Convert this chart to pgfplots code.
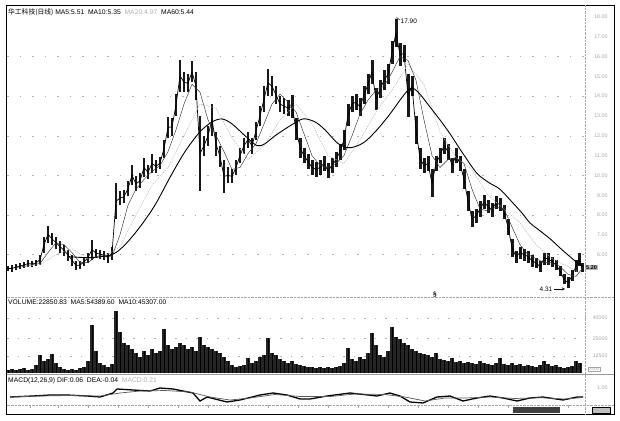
\documentclass[border=0pt]{standalone}
\usepackage{pgfplots}
\pgfplotsset{compat=1.18}
\usepackage{pgfplotstable}
\usepackage{fontspec}
\setmainfont{Liberation Sans}
\newfontfamily\cjk{Noto Sans CJK SC}

\pgfplotstableread{
x l h
8 5.15 5.45
12 5.1 5.5
16 5.2 5.55
20 5.25 5.6
24 5.3 5.65
28 5.35 5.75
32 5.35 5.7
36 5.4 5.75
40 5.5 6.0
44 6.1 6.9
48 6.6 7.45
52 6.5 7.1
56 6.3 6.9
60 6.1 6.7
64 5.95 6.5
68 5.7 6.25
72 5.45 6.0
76 5.2 5.7
80 5.25 5.7
84 5.4 5.85
88 5.6 6.1
92 5.75 6.75
96 5.85 6.3
100 5.8 6.25
104 5.75 6.2
108 5.6 6.1
112 5.75 6.4
116 7.8 9.6
120 8.5 9.2
124 8.6 9.25
128 8.95 9.7
132 9.5 10.5
136 9.2 9.95
140 9.35 10.1
144 9.9 10.9
148 9.8 10.5
152 10.1 11.1
156 10.1 10.8
160 10.3 10.95
164 10.9 11.8
168 11.9 12.95
172 12.0 12.9
176 13.0 14.1
180 14.2 15.85
184 14.2 15.2
188 14.2 15.1
192 14.7 15.75
196 13.8 15.2
200 9.2 13.0
204 11.0 12.0
208 11.5 12.5
212 12.0 13.6
216 11.0 12.2
220 10.4 11.5
224 9.1 10.8
228 9.6 10.4
232 9.6 10.3
236 10.0 10.8
240 10.6 11.4
244 11.1 11.9
248 11.4 12.2
252 11.1 11.9
256 11.8 12.7
260 12.5 13.5
264 13.2 14.5
268 14.0 15.35
272 14.0 15.0
276 13.6 14.5
280 13.2 14.0
284 13.1 13.9
288 13.0 13.8
292 12.9 14.05
296 11.8 12.9
300 10.9 11.9
304 10.6 11.4
308 10.3 11.1
312 10.0 10.8
316 9.9 10.7
320 10.0 10.8
324 10.2 11.0
328 9.85 10.6
332 10.1 10.9
336 10.4 11.2
340 10.8 11.6
344 11.3 12.3
348 12.5 13.6
352 13.2 14.0
356 13.3 14.1
360 13.0 13.9
364 13.6 14.5
368 14.1 15.1
372 14.6 15.85
376 13.3 14.4
380 13.9 14.8
384 14.3 15.3
388 14.6 15.6
392 15.6 16.8
396 16.5 17.9
400 15.5 16.7
404 15.7 16.6
408 12.95 15.1
412 14.0 15.0
416 11.6 13.0
420 10.3 11.4
424 10.1 10.9
428 10.2 11.0
432 8.9 10.3
436 10.2 11.0
440 10.6 11.4
444 11.1 11.9
448 10.8 11.6
452 10.1 10.9
456 10.6 11.4
460 10.2 11.0
464 9.3 10.3
468 8.2 9.2
472 7.4 8.2
476 7.6 8.3
480 7.9 8.7
484 8.3 9.0
488 8.1 8.75
492 7.9 8.6
496 8.3 8.95
500 8.2 8.85
504 7.8 8.5
508 7.0 7.8
512 5.9 6.8
516 5.6 6.2
520 5.8 6.4
524 5.7 6.3
528 5.6 6.2
532 5.4 6.0
536 5.3 5.85
540 5.1 5.7
544 5.5 6.1
548 5.5 6.1
552 5.4 5.9
556 5.2 5.75
560 4.9 5.45
564 4.5 5.0
568 4.31 4.85
572 4.65 5.2
576 5.1 5.75
579 5.4 6.1
582 5.1 5.6
}\price

\pgfplotstableread{
x v
8 3
12 4
16 3
20 4
24 5
28 3
32 4
36 8
40 18
44 12
48 14
52 19
56 10
60 6
64 4
68 3
72 4
76 3
80 5
84 6
88 12
92 48
96 22
100 10
104 8
108 6
112 9
116 62
120 41
124 30
128 28
132 24
136 20
140 16
144 22
148 18
152 24
156 20
160 22
164 44
168 28
172 24
176 26
180 30
184 28
188 24
192 26
196 22
200 36
204 28
208 26
212 24
216 22
220 20
224 16
228 12
232 8
236 6
240 7
244 8
248 15
252 10
256 12
260 16
264 18
268 35
272 20
276 18
280 14
284 12
288 10
292 12
296 9
300 8
304 7
308 6
312 6
316 5
320 6
324 5
328 6
332 5
336 6
340 7
344 10
348 25
352 14
356 12
360 16
364 14
368 20
372 40
376 28
380 18
384 16
388 22
392 46
396 36
400 34
404 30
408 28
412 24
416 22
420 20
424 19
428 18
432 16
436 20
440 14
444 13
448 12
452 15
456 11
460 12
464 10
468 11
472 10
476 9
480 12
484 10
488 9
492 8
496 10
500 15
504 9
508 8
512 10
516 8
520 9
524 7
528 8
532 7
536 6
540 8
544 12
548 9
552 7
556 8
560 6
564 5
568 6
572 7
576 12
580 10
}\volume

\pgfplotstableread{
x y
16 5.35
24 5.4
32 5.5
40 5.55
48 6.1
56 6.6
64 6.5
72 6.1
80 5.6
88 5.6
96 5.9
104 6.0
112 5.9
120 7.0
128 8.5
136 9.3
144 9.8
152 10.2
160 10.5
168 11.2
176 12.3
184 13.6
192 14.6
200 14.2
208 12.8
216 12.0
224 11.2
232 10.3
240 10.4
248 11.1
256 11.6
264 12.6
272 13.6
280 14.1
288 13.7
296 13.2
304 12.1
312 11.0
320 10.5
328 10.4
336 10.6
344 11.0
352 12.0
360 13.1
368 13.8
376 14.3
384 14.5
392 15.2
400 16.0
408 15.8
416 14.8
424 12.8
432 11.0
440 10.4
448 10.8
456 10.9
464 10.6
472 9.3
480 8.3
488 8.2
496 8.4
504 8.3
512 7.4
520 6.5
528 6.0
536 5.8
544 5.6
552 5.6
560 5.4
568 5.0
576 4.9
583 5.35
}\maten

\pgfplotstableread{
x y
24 5.4
40 5.5
56 6.0
72 6.3
88 5.8
104 5.9
120 6.4
136 8.0
152 9.5
168 10.4
184 12.0
200 13.6
216 13.4
232 11.9
248 10.8
264 11.5
280 12.8
296 13.6
312 12.6
328 11.0
344 10.6
360 11.8
376 13.2
392 14.3
408 15.6
424 14.6
440 12.2
456 10.9
472 10.3
488 9.0
504 8.3
520 7.6
536 6.5
552 5.8
568 5.4
583 5.0
}\matwenty

\pgfplotstableread{
x y
68 5.9
90 5.85
112 6.0
125 6.5
140 7.4
155 8.5
170 9.9
185 11.2
200 12.2
212 12.7
222 12.85
232 12.6
245 12.0
257 11.5
265 11.6
275 12.0
290 12.5
303 12.85
315 12.7
325 12.3
337 11.65
347 11.4
355 11.45
365 11.7
377 12.3
390 13.1
400 13.8
408 14.3
413 14.4
420 14.1
430 13.45
440 12.8
450 12.1
463 11.1
477 10.1
490 9.6
500 9.3
513 8.6
522 8.1
530 7.6
540 7.2
550 6.8
563 6.2
577 5.6
583 5.4
}\masixty

\pgfplotstableread{
x y
10 8
33 9
50 10
67 10
87 9
100 8
113 12
117 16
133 15
150 14
160 17
173 16
193 12
200 4
207 8
227 3
240 5
260 10
273 12
287 10
300 6
310 6
327 9
350 12
377 9
390 12
400 9
410 3
423 2
437 8
450 9
463 4
477 7
490 9
503 7
517 4
530 7
543 8
563 5
577 8
583 8
}\dif

\pgfplotstableread{
x y
10 8
40 9
70 9.5
100 9
120 12
140 14
165 14.5
190 13
210 8
230 5
250 7
275 10.5
300 8.5
330 8.5
355 11
385 10.5
405 8
425 4
445 7
465 7
490 8
515 6.5
540 7.3
565 6
583 7.5
}\dea

\begin{document}
\begin{tikzpicture}
\useasboundingbox (0,0) rectangle (620bp,-421bp);
\pgfplotsset{panel/.style={scale only axis, width=578bp, xmin=7, xmax=585,
  axis line style={draw=none}, tick style={draw=none}, xtick=\empty, clip=false,
  /pgf/number format/assume math mode=true, yticklabel pos=right,
  yticklabel style={font=\fontsize{5.3}{6}\selectfont, text=gray!70, anchor=east, xshift=26bp}}}

% price panel
\begin{axis}[panel, at={(7bp,-8bp)}, anchor=north west, height=289bp,
  ymin=3.86, ymax=18.45, ytick={6,...,18},
  yticklabel={\pgfmathprintnumber[fixed,fixed zerofill,precision=2]{\tick}},
  extra y ticks={6,8,...,16}, extra y tick labels={},
  extra y tick style={grid=major, major grid style={gray!60, line width=0.4pt, dash pattern=on 1.5bp off 11bp}}]
\addplot[draw=none, mark=none, forget plot, error bars/.cd, y dir=both, y explicit,
  error bar style={line width=3pt, black!90}, error mark=none]
  table[x=x, y expr=(\thisrow{l}+\thisrow{h})/2, y error expr=(\thisrow{h}-\thisrow{l})/2] {\price};
\addplot[black, line width=0.7pt] table[x=x, y expr=(\thisrow{l}+\thisrow{h})/2] {\price};
\addplot[gray!55, line width=0.5pt, dash pattern=on 1.5pt off 1pt] table[x=x,y=y] {\matwenty};
\addplot[gray!40!black, line width=0.45pt] table[x=x,y=y] {\maten};
\addplot[black, line width=0.9pt, smooth] table[x=x,y=y] {\masixty};
\draw[black, line width=0.4pt] (axis cs:395.5,17.92) -- (axis cs:397,17.96) -- (axis cs:400,17.84);
\node[anchor=west, font=\fontsize{6.5}{7}\selectfont, inner sep=0.5bp] at (axis cs:400,17.8) {17.90};
\node[anchor=east, font=\fontsize{6.5}{7}\selectfont, inner sep=0.5bp] at (axis cs:553,4.27) {4.31};
\draw[-stealth, line width=0.5pt] (axis cs:554,4.27) -- (axis cs:565,4.27);
\node[font=\fontsize{6.5}{7}\selectfont\bfseries, inner sep=0pt] at (axis cs:435,3.98) {\S};
\node[anchor=west, fill=gray!55, inner sep=1bp, font=\fontsize{5.5}{6}\selectfont\bfseries] at (axis cs:585,5.35) {5.20};
\end{axis}

% volume panel
\begin{axis}[panel, at={(7bp,-297bp)}, anchor=north west, height=76bp,
  ymin=0, ymax=76, ytick={17.2,34.4,55}, yticklabels={12500,25000,40000},
  ymajorgrids, major grid style={gray!60, line width=0.4pt, dash pattern=on 1.5bp off 9bp}]
\addplot[ycomb, black!85, line width=3.3pt] table[x=x,y=v] {\volume};
\addplot[ycomb, black, line width=0.5pt] table[x=x,y=v] {\volume};
\end{axis}

% MACD panel
\begin{axis}[panel, at={(7bp,-375bp)}, anchor=north west, height=30bp,
  ymin=0, ymax=30, ytick={17}, yticklabels={1.00}]
\addplot[black, line width=1.3pt] table[x=x,y=y] {\dif};
\addplot[gray!70!black, line width=0.7pt] table[x=x,y=y] {\dea};
\end{axis}

% frames and separators
\draw[line width=0.9pt] (6.5bp,-5bp) rectangle (614bp,-414bp);
\draw[gray!70, densely dotted] (585bp,-5bp) -- (585bp,-414bp);
\draw[gray!70, densely dotted] (6.5bp,-297bp) -- (614bp,-297bp);
\draw[gray!80, line width=0.5pt] (6.5bp,-374.5bp) -- (614bp,-374.5bp);
\draw[gray!70, densely dotted] (6.5bp,-405bp) -- (614bp,-405bp);
\foreach \t in {30,58,88,118,148,178,208,238,268,298,328,358,388,418,448,478,508,568}
  \draw[gray!70, line width=0.4pt] (\t bp,-405bp) -- (\t bp,-408bp);
\fill[black!75] (513bp,-407bp) rectangle (560bp,-413bp);
\draw[black, fill=gray!50] (592bp,-407bp) rectangle (610bp,-413bp);
\node[draw=gray!70, inner sep=0.6bp, font=\fontsize{4.5}{5}\selectfont, text=gray!70] at (594bp,-369bp) {X100};

% titles
\node[anchor=west, inner sep=0pt, font=\fontsize{6.8}{7}\selectfont] at (8bp,-12bp)
  {{\cjk 华工科技(日线)} MA5:5.51 \ MA10:5.35 \ \textcolor{gray!60}{MA20:4.97} \ MA60:5.44};
\node[anchor=west, inner sep=0pt, font=\fontsize{6.8}{7}\selectfont] at (8bp,-302bp)
  {VOLUME:22850.83 \ MA5:54389.60 \ MA10:45307.00};
\node[anchor=west, inner sep=0pt, font=\fontsize{6.8}{7}\selectfont] at (8bp,-381bp)
  {MACD(12,26,9) DIF:0.06 \ DEA:-0.04 \ \textcolor{gray!60}{MACD:0.21}};
\end{tikzpicture}
\end{document}
